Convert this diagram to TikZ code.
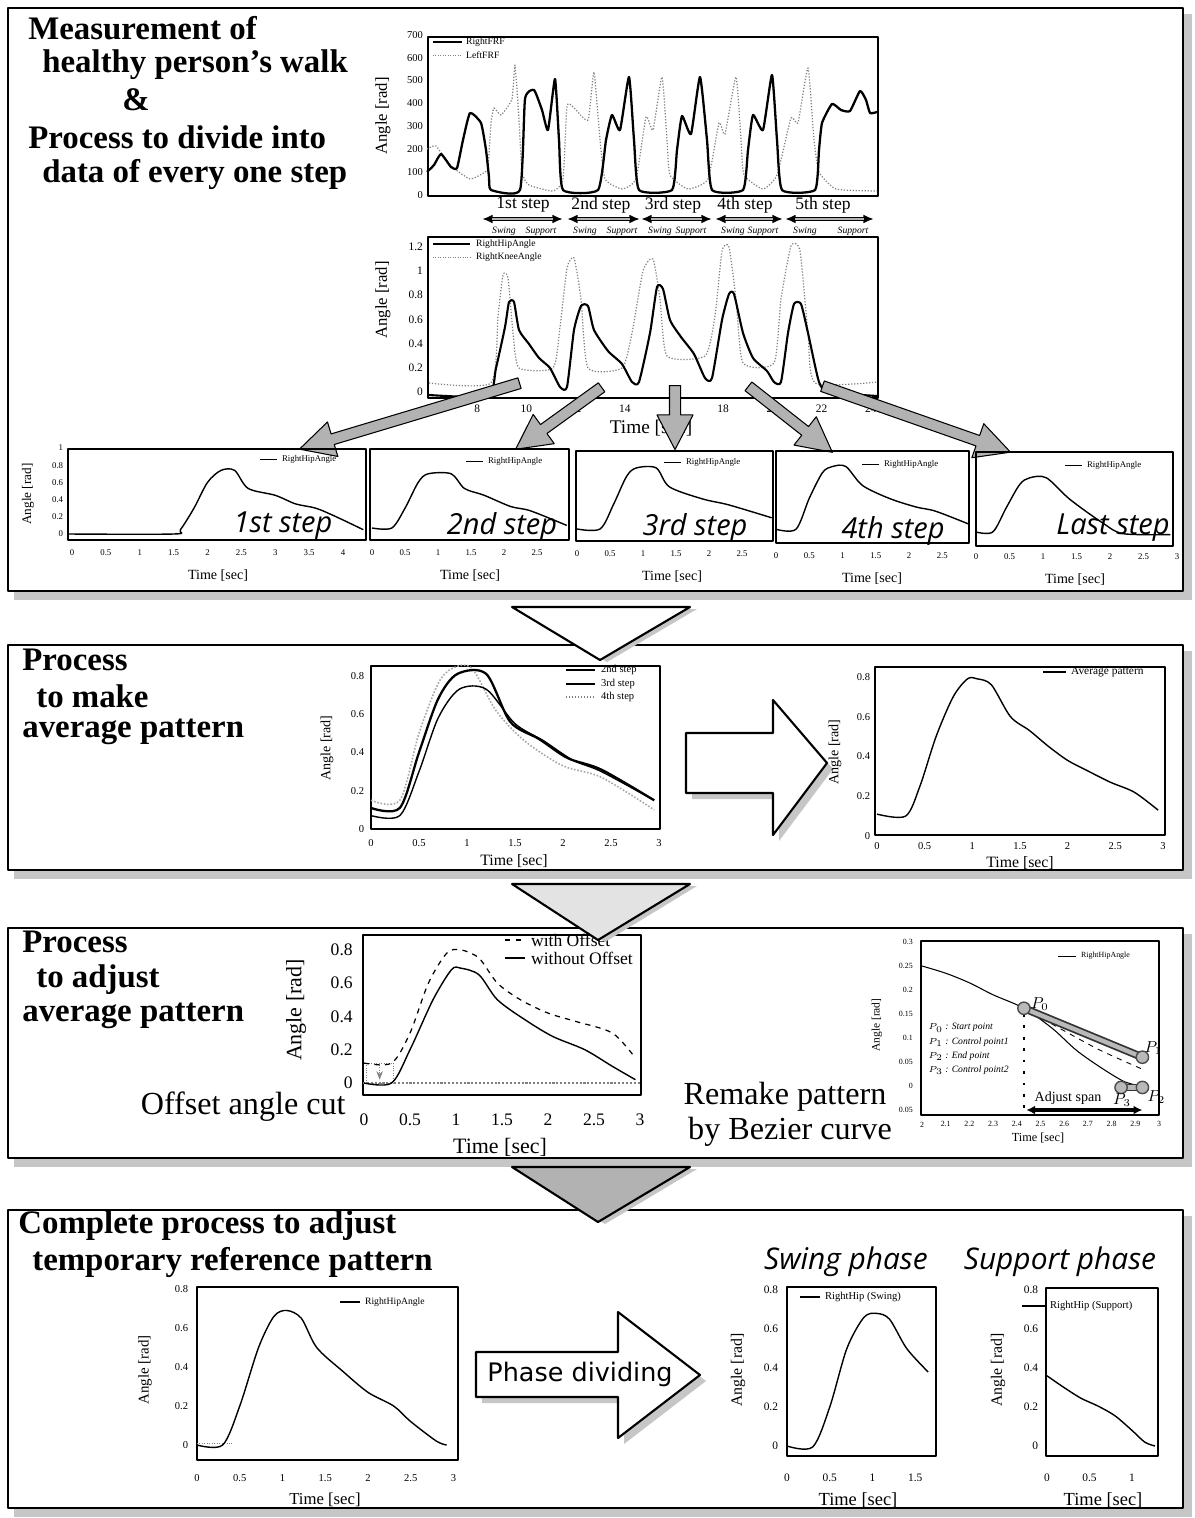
\documentclass[tikz,border=0pt]{standalone}
\usepackage{fontspec}
\setmainfont{Liberation Serif}
\newfontfamily\phasefont{Open Sans}
\newfontfamily\arrowfont{DejaVu Sans}
\usepackage{tikz}
\usetikzlibrary{arrows.meta, shapes.arrows, calc}

\tikzset{
  panel/.style={draw=black, line width=1.2pt, fill=white},
  panelshade/.style={fill=gray!45},
  frame/.style={draw=black, line width=0.6pt},
  ptitle/.style={anchor=west, inner sep=0pt, font=\bfseries\fontsize{18.7}{22}\selectfont},
  ticklbl/.style={inner sep=1pt, font=\fontsize{#1}{#1}\selectfont},
  axlbl/.style={inner sep=0pt, font=\fontsize{#1}{#1}\selectfont},
  leg/.style={anchor=west, inner sep=1pt, font=\fontsize{#1}{#1}\selectfont},
  steplbl/.style={inner sep=0pt, font=\phasefont\itshape\fontsize{16.5}{18}\selectfont},
  bigtxt/.style={inner sep=0pt, font=\fontsize{18.3}{20}\selectfont},
  curve/.style={line width=0.8pt},
  fatarrow/.style={single arrow, draw=black, fill=gray!60, line width=0.6pt,
    inner sep=0.1cm, minimum width=0.6cm, single arrow tip angle=55, anchor=tail},
  blockarrow/.style={draw=black, line width=1.2pt, fill=white},
  chevron/.style={draw=black, line width=1.2pt}
}

\begin{document}
\begin{tikzpicture}[x=0.02cm, y=-0.02cm, >=Stealth, line join=round]
\useasboundingbox (0,0) rectangle (1194,1518);
\fill[white] (0,0) rectangle (1194,1518);

% Rahmen mit Schatten
\foreach \top/\bot in {8/591, 645/870, 928/1158, 1210/1508}
{
  \fill[panelshade] (14,{\top+6}) rectangle (1192,{\bot+9});
  \draw[panel] (8,\top) rectangle (1183,\bot);
}

% ---------- Panel 1 ----------
\node[ptitle] (t1a) at (28,28) {Measurement of};
\node[ptitle] (t1b) at (42,65) {healthy person’s walk};
\node[ptitle] (t1c) at (122,100) {\&};
\node[ptitle] (t1d) at (28,137) {Process to divide into};
\node[ptitle] (t1e) at (42,174) {data of every one step};

% FRF plot
\draw[frame] (428,37) rectangle (878,196);
\foreach \v in {0,100,200,300,400,500,600,700}
  \node[ticklbl=6, left] (fy\v) at (425,{195-0.229*\v}) {\v};
\node[axlbl=9.5, rotate=90] (fylab) at (383,116) {Angle [rad]};
\draw[line width=1pt] (433,42) -- (462,42);
\node[leg=5.5] (fleg1) at (464,42) {RightFRF};
\draw[gray, densely dotted] (433,55) -- (462,55);
\node[leg=5.5] (fleg2) at (464,55) {LeftFRF};
\draw[gray, densely dotted, line width=0.7pt] plot[smooth, tension=0.3] coordinates {
  (427,149) (436,146) (450,165) (470,179) (485,172) (488,168) (491,123) (494,108)
  (501,115) (512,99) (515,65) (519,120) (522,172) (529,185) (553,191) (563,179)
  (567,106) (574,108) (588,120) (594,72) (600,140) (605,179) (622,189) (636,179)
  (646,117) (653,130) (662,77) (667,140) (670,175) (688,189) (708,179) (719,123)
  (725,134) (736,77) (741,140) (744,175) (763,189) (777,175) (791,118) (798,123)
  (808,68) (814,140) (819,172) (836,189) (877,191)};
\draw[line width=1.3pt] plot[smooth, tension=0.3] coordinates {
  (427,172) (434,165) (441,154) (451,167) (457,168) (463,140) (470,113) (481,123)
  (486,150) (489,177) (491,190) (520,190) (525,99) (534,90) (542,110) (548,130)
  (555,79) (559,140) (563,190) (598,190) (606,140) (612,115) (620,130) (629,77)
  (634,140) (639,190) (672,190) (677,150) (682,116) (691,134) (700,77) (707,140)
  (712,190) (743,190) (748,150) (753,115) (763,130) (772,75) (777,140) (782,190)
  (815,190) (819,150) (822,123) (832,104) (841,110) (850,111) (860,91) (866,100)
  (870,113) (877,112)};

% Schritte
\foreach \x/\s [count=\i] in {523/1st, 601/2nd, 673/3rd, 745/4th, 823/5th}
  \node[inner sep=0pt, font=\fontsize{10}{10}\selectfont] (st\i) at (\x,205) {\s\ step};
\foreach \a/\b in {482/563, 567/640, 641/712, 715/783, 785/874}
{
  \draw[{Latex[length=6pt,width=5pt]}-{Latex[length=6pt,width=5pt]}, line width=2.2pt] (\a,219) -- (\b,219);
  \draw[gray!60, line width=0.8pt] ({\a+10},219) -- ({\b-10},219);
}
\foreach \x/\s [count=\i] in {504/Swing, 541/Support, 585/Swing, 622/Support, 660/Swing,
    691/Support, 733/Swing, 763/Support, 805/Swing, 853/Support}
  \node[inner sep=0pt, font=\itshape\fontsize{5.5}{6}\selectfont] (ss\i) at (\x,231) {\s};

% Hip/Knee plot
\draw[frame] (428,237) rectangle (878,398);
\foreach \v [count=\i] in {0,0.2,0.4,0.6,0.8,1,1.2}
  \node[ticklbl=6.5, left] (hy\i) at (425,{392-121*\v}) {\v};
\foreach \t [count=\i] in {6,8,10,12,14,16,18,20,22,24}
  \node[ticklbl=6.5] (hx\i) at ({428+24.6*(\t-6)},409) {\t};
\node[axlbl=9.5, rotate=90] (hylab) at (383,300) {Angle [rad]};
\node[axlbl=11] (hxlab) at (651,428) {Time [sec]};
\draw[line width=1.2pt] (433,244) -- (470,244);
\node[leg=5.5] (hleg1) at (474,244) {RightHipAngle};
\draw[gray, densely dotted] (433,257) -- (470,257);
\node[leg=5.5] (hleg2) at (474,257) {RightKneeAngle};
\draw[gray, densely dotted, line width=0.7pt] plot[smooth, tension=0.35] coordinates {
  (429,383) (491,383) (498,316) (503,275) (508,278) (513,333) (519,368) (553,368)
  (560,327) (567,268) (574,258) (581,299) (588,368) (622,368) (632,333) (643,271)
  (653,259) (660,299) (667,356) (705,356) (715,316) (722,251) (729,247) (736,299)
  (743,363) (774,363) (781,299) (791,246) (800,251) (808,333) (815,383) (877,382)};
\draw[line width=1.2pt] plot[smooth, tension=0.35] coordinates {
  (429,395) (488,396) (496,368) (505,327) (509,302) (514,302) (519,330) (529,344)
  (539,358) (550,368) (560,387) (567,387) (574,330) (581,306) (588,306) (594,330)
  (608,351) (622,364) (632,382) (639,382) (650,333) (657,287) (663,289) (670,320)
  (681,337) (694,354) (705,378) (712,378) (722,320) (729,294) (734,294) (743,333)
  (753,358) (767,371) (774,382) (781,382) (788,333) (794,304) (801,304) (808,333)
  (819,382) (829,392) (877,396)};

% Pfeile zu den Einzelschritten
\coordinate (as1) at (520,383); \coordinate (ae1) at (300,449);
\coordinate (as2) at (602,387); \coordinate (ae2) at (516,449);
\coordinate (as3) at (675,385); \coordinate (ae3) at (675,449);
\coordinate (as4) at (748,386); \coordinate (ae4) at (832,452);
\coordinate (as5) at (822,386); \coordinate (ae5) at (1010,452);
\foreach \i in {1,...,5}
  \path let \p1=($(ae\i)-(as\i)$), \n1={veclen(\x1,\y1)}, \n2={atan2(\y1,\x1)} in
    node[fatarrow, minimum height=\n1, rotate=\n2] (fa\i) at (as\i) {};

% Einzelschritte
\draw[frame] (68,449) rectangle (366,540);
\draw[frame] (370,449) rectangle (569,540);
\draw[frame] (576,451) rectangle (773,541);
\draw[frame] (776,451) rectangle (969,543);
\draw[frame] (976,452) rectangle (1173,546);
\node[axlbl=7.5, rotate=90] (s1ylab) at (28,494) {Angle [rad]};
\foreach \x/\y [count=\i] in {218/576, 470/576, 672/577, 872/579, 1075/580}
  \node[axlbl=8] (sxlab\i) at (\x,\y) {Time [sec]};
\foreach \x/\y [count=\i] in {260/459, 466/461, 664/462, 862/464, 1065/465}
{
  \draw[line width=0.5pt] (\x,\y) -- ({\x+17},\y);
  \node[leg=5] (sleg\i) at ({\x+20},\y) {RightHipAngle};
}
\node[steplbl] (sl1) at (283,526) {1st step};
\node[steplbl] (sl2) at (502,527) {2nd step};
\node[steplbl] (sl3) at (695,528) {3rd step};
\node[steplbl] (sl4) at (893,531) {4th step};
\node[steplbl] (sl5) at (1113,528) {Last step};

\begin{scope}[shift={(72,534)}, xscale=67.75, yscale=-86]
  \foreach \v [count=\i] in {0,0.2,0.4,0.6,0.8,1}
    \node[ticklbl=5, left] (s1y\i) at (-0.1,\v) {\v};
  \foreach \t [count=\i] in {0,0.5,1,1.5,2,2.5,3,3.5,4}
    \node[ticklbl=5] (s1x\i) at (\t,-0.22) {\t};
  \draw[curve] plot[smooth, tension=0.5] coordinates {(-0.05,0) (1.5,0) (1.6,0.05) (1.8,0.3)
    (2.0,0.6) (2.2,0.74) (2.4,0.74) (2.6,0.53) (3.0,0.45) (3.3,0.35) (3.6,0.3) (3.9,0.2) (4.3,0.05)};
\end{scope}
\begin{scope}[shift={(372,534)}, xscale=66, yscale=-86]
  \foreach \t [count=\i] in {0,0.5,1,1.5,2,2.5}
    \node[ticklbl=5] (s2x\i) at (\t,-0.22) {\t};
  \draw[curve] plot[smooth, tension=0.5] coordinates {(0,0.07) (0.3,0.07) (0.5,0.3) (0.7,0.6)
    (0.85,0.7) (1.2,0.7) (1.4,0.53) (1.7,0.45) (2.1,0.32) (2.4,0.27) (2.95,0.1)};
\end{scope}
\begin{scope}[shift={(577,535)}, xscale=66, yscale=-86]
  \foreach \t [count=\i] in {0,0.5,1,1.5,2,2.5}
    \node[ticklbl=5] (s3x\i) at (\t,-0.22) {\t};
  \draw[curve] plot[smooth, tension=0.5] coordinates {(0,0.07) (0.35,0.07) (0.55,0.35) (0.75,0.68)
    (0.9,0.78) (1.2,0.78) (1.4,0.56) (1.9,0.42) (2.3,0.35) (2.95,0.2)};
\end{scope}
\begin{scope}[shift={(776,537)}, xscale=66.5, yscale=-86]
  \foreach \t [count=\i] in {0,0.5,1,1.5,2,2.5}
    \node[ticklbl=5] (s4x\i) at (\t,-0.22) {\t};
  \draw[curve] plot[smooth, tension=0.5] coordinates {(0,0.09) (0.3,0.09) (0.5,0.45) (0.7,0.75)
    (0.85,0.82) (1.05,0.82) (1.3,0.6) (1.7,0.45) (2.1,0.35) (2.4,0.3) (2.9,0.15)};
\end{scope}
\begin{scope}[shift={(976,538)}, xscale=67, yscale=-86]
  \foreach \t [count=\i] in {0,0.5,1,1.5,2,2.5,3}
    \node[ticklbl=5] (s5x\i) at (\t,-0.22) {\t};
  \draw[curve] plot[smooth, tension=0.5] coordinates {(0,0.07) (0.25,0.07) (0.45,0.35) (0.65,0.62)
    (0.8,0.7) (1.05,0.7) (1.4,0.45) (1.9,0.17) (2.2,0.05) (2.9,0.04)};
\end{scope}

% ---------- Panel 2 ----------
\node[ptitle] (t2a) at (22,660) {Process};
\node[ptitle] (t2b) at (36,696) {to make};
\node[ptitle] (t2c) at (22,732) {average pattern};

\draw[frame, line width=0.8pt] (371,666) rectangle (660,829);
\node[axlbl=8, rotate=90] (ayl) at (327,748) {Angle [rad]};
\node[axlbl=9] (axl) at (514,861) {Time [sec]};
\draw[line width=0.6pt] (566,670) -- (595,670);
\node[leg=6] (aleg1) at (599,670) {2nd step};
\draw[line width=1.3pt] (566,684) -- (595,684);
\node[leg=6] (aleg2) at (599,684) {3rd step};
\draw[gray, densely dotted, line width=0.7pt] (566,697) -- (595,697);
\node[leg=6] (aleg3) at (599,697) {4th step};
\begin{scope}[shift={(371,829)}, xscale=96, yscale=-191.5]
  \foreach \v [count=\i] in {0,0.2,0.4,0.6,0.8}
    \node[ticklbl=6, left] (ay\i) at (-0.05,\v) {\v};
  \foreach \t [count=\i] in {0,0.5,1,1.5,2,2.5,3}
    \node[ticklbl=6] (ax\i) at (\t,-0.075) {\t};
  \draw[gray!70, densely dotted, line width=0.9pt] plot[smooth, tension=0.5] coordinates {(0,0.15) (0.3,0.15)
    (0.5,0.5) (0.7,0.76) (0.85,0.84) (1.05,0.84) (1.3,0.62) (1.6,0.46) (2.0,0.33) (2.4,0.27) (2.95,0.1)};
  \draw[curve] plot[smooth, tension=0.5] coordinates {(0,0.07) (0.3,0.07) (0.5,0.3) (0.7,0.58)
    (0.92,0.73) (1.2,0.73) (1.5,0.55) (1.8,0.46) (2.1,0.36) (2.4,0.3) (2.95,0.15)};
  \draw[line width=1.3pt] plot[smooth, tension=0.5] coordinates {(0,0.11) (0.3,0.11) (0.5,0.4) (0.7,0.68)
    (0.9,0.81) (1.2,0.81) (1.45,0.56) (1.75,0.47) (2.05,0.37) (2.4,0.31) (2.95,0.15)};
\end{scope}

% Blockpfeil
\fill[gray!45] (692,739) -- (779,739) -- (779,706) -- (833,769) -- (779,841) -- (779,799) -- (692,799) -- cycle;
\draw[blockarrow] (686,733) -- (773,733) -- (773,700) -- (827,763) -- (773,835) -- (773,793) -- (686,793) -- cycle;

\draw[frame, line width=0.8pt] (875,667) rectangle (1165,835);
\node[axlbl=8, rotate=90] (byl) at (835,752) {Angle [rad]};
\node[axlbl=9] (bxl) at (1020,863) {Time [sec]};
\draw[line width=0.6pt] (1043,672) -- (1066,672);
\node[leg=6.5] (bleg) at (1069,672) {Average pattern};
\begin{scope}[shift={(877,836)}, xscale=95.3, yscale=-199]
  \foreach \v [count=\i] in {0,0.2,0.4,0.6,0.8}
    \node[ticklbl=6, left] (by\i) at (-0.05,\v) {\v};
  \foreach \t [count=\i] in {0,0.5,1,1.5,2,2.5,3}
    \node[ticklbl=6] (bx\i) at (\t,-0.05) {\t};
  \draw[curve] plot[smooth, tension=0.5] coordinates {(0,0.11) (0.3,0.1) (0.45,0.25) (0.62,0.5)
    (0.8,0.7) (0.95,0.79) (1.05,0.79) (1.2,0.76) (1.4,0.6) (1.6,0.53) (1.8,0.45) (2.0,0.38)
    (2.2,0.33) (2.45,0.27) (2.7,0.22) (2.95,0.13)};
\end{scope}

% ---------- Panel 3 ----------
\node[ptitle] (t3a) at (22,942) {Process};
\node[ptitle] (t3b) at (36,980) {to adjust};
\node[ptitle] (t3c) at (22,1016) {average pattern};

\draw[frame, line width=0.8pt] (363,935) rectangle (641,1095);
\node[axlbl=12.5, rotate=90] (cyl) at (296,1010) {Angle [rad]};
\node[axlbl=12.5] (cxl) at (500,1147) {Time [sec]};
\draw[dashed, line width=0.6pt] (505,940) -- (525,940);
\node[leg=10] (cleg1) at (529,940) {with Offset};
\draw[line width=0.6pt] (505,958) -- (525,958);
\node[leg=10] (cleg2) at (529,958) {without Offset};
\begin{scope}[shift={(364,1083)}, xscale=92, yscale=-166.5]
  \foreach \v [count=\i] in {0,0.2,0.4,0.6,0.8}
    \node[ticklbl=10, left] (cy\i) at (-0.1,\v) {\v};
  \foreach \t [count=\i] in {0,0.5,1,1.5,2,2.5,3}
    \node[ticklbl=10] (cx\i) at (\t,-0.22) {\t};
  \draw[gray, densely dotted, line width=1.2pt] (-0.01,0) -- (3.01,0);
  \draw[gray, densely dotted] (0.03,0) rectangle (0.32,0.12);
  \draw[gray, densely dotted, ->] (0.17,0.11) -- (0.17,0.02);
  \draw[dashed, line width=0.7pt] plot[smooth, tension=0.5] coordinates {(0,0.12) (0.3,0.12) (0.5,0.3)
    (0.7,0.6) (0.9,0.78) (1.05,0.8) (1.25,0.75) (1.45,0.6) (1.7,0.5) (2.0,0.42) (2.3,0.37)
    (2.7,0.3) (2.95,0.15)};
  \draw[curve] plot[smooth, tension=0.5] coordinates {(0,0) (0.3,0) (0.5,0.2) (0.75,0.5) (0.95,0.68)
    (1.05,0.69) (1.25,0.65) (1.45,0.5) (1.75,0.38) (2.05,0.28) (2.4,0.2) (2.7,0.1) (2.95,0.02)};
\end{scope}
\node[bigtxt, anchor=east] (offcut) at (346,1107) {Offset angle cut};
\node[bigtxt] (remake1) at (785,1097) {Remake pattern};
\node[bigtxt] (remake2) at (790,1132) {by Bezier curve};

% Bezier plot
\draw[frame] (921,941) rectangle (1159,1115);
\node[axlbl=6.5, rotate=90] (dyl) at (877,1025) {Angle [rad]};
\node[axlbl=7] (dxl) at (1038,1138) {Time [sec]};
\draw[line width=0.5pt] (1058,956) -- (1076,956);
\node[leg=4.5] (dleg) at (1079,956) {RightHipAngle};
\begin{scope}[shift={(448,1086)}, xscale=237, yscale=-480]
  \foreach \v/\l [count=\i] in {0.3/0.3, 0.25/0.25, 0.2/0.2, 0.15/0.15, 0.1/0.1, 0.05/0.05, 0/0, -0.05/0.05}
    \node[ticklbl=4.5, left] (dy\i) at (1.97,\v) {\l};
  \foreach \t [count=\i] in {2,2.1,2.2,2.3,2.4,2.5,2.6,2.7,2.8,2.9,3}
    \node[ticklbl=4.5] (dx\i) at (\t,-0.08) {\t};
  \draw[line width=0.6pt] plot[smooth, tension=0.5] coordinates {(2,0.25) (2.1,0.235) (2.2,0.215)
    (2.3,0.19) (2.43,0.162) (2.55,0.12) (2.65,0.075) (2.75,0.04) (2.85,0.01) (2.92,0)};
  \draw[dashed, line width=0.5pt] plot[smooth] coordinates {(2.43,0.162) (2.6,0.115) (2.75,0.075) (2.93,0.035)};
  \draw[dash pattern=on 1.5pt off 5pt, line width=1.6pt] (2.43,0.15) -- (2.43,-0.05);
  \coordinate (p0) at (2.43,0.162);
  \coordinate (p1) at (2.93,0.06);
  \coordinate (p2) at (2.93,-0.003);
  \coordinate (p3) at (2.84,-0.003);
  \coordinate (sp1) at (2.44,-0.05);
  \coordinate (sp2) at (2.93,-0.05);
\end{scope}
\draw[line width=4.5pt, black!80] (p0) -- (p1);
\draw[line width=2.5pt, gray!55] (p0) -- (p1);
\draw[line width=4.5pt, black!80] (p3) -- (p2);
\draw[line width=2.5pt, gray!55] (p3) -- (p2);
\foreach \p in {p0,p1,p2,p3}
  \draw[fill=gray!55, draw=black!70, line width=0.8pt] (\p) circle (3.5pt);
\node[inner sep=0pt, font=\fontsize{9}{9}\selectfont] (lp0) at ($(p0)+(16,-4)$) {$P_0$};
\node[inner sep=0pt, font=\fontsize{9}{9}\selectfont] (lp1) at ($(p1)+(11,-9)$) {$P_1$};
\node[inner sep=0pt, font=\fontsize{9}{9}\selectfont] (lp2) at ($(p2)+(14,10)$) {$P_2$};
\node[inner sep=0pt, font=\fontsize{9}{9}\selectfont] (lp3) at ($(p3)+(1,13)$) {$P_3$};
\foreach \y/\s [count=\i] in {1028/{$P_0$ : Start point}, 1042/{$P_1$ : Control point1},
    1056/{$P_2$ : End point}, 1070/{$P_3$ : Control point2}}
  \node[anchor=west, inner sep=0pt, font=\itshape\fontsize{5.5}{6}\selectfont] (pl\i) at (928,\y) {\s};
\node[inner sep=0pt, font=\fontsize{8}{8}\selectfont] (adj) at (1068,1098) {Adjust span};
\draw[{Latex[length=5pt,width=5pt]}-{Latex[length=5pt,width=5pt]}, line width=2.2pt] (sp1) -- (sp2);

% ---------- Panel 4 ----------
\node[ptitle] (t4a) at (18,1226) {Complete process to adjust};
\node[ptitle] (t4b) at (32,1262) {temporary reference pattern};

\draw[frame, line width=1pt] (197,1287) rectangle (458,1460);
\node[axlbl=8.5, rotate=90] (eyl) at (145,1370) {Angle [rad]};
\node[axlbl=9.5] (exl) at (325,1500) {Time [sec]};
\draw[line width=0.6pt] (340,1302) -- (360,1302);
\node[leg=5.5] (eleg) at (363,1302) {RightHipAngle};
\begin{scope}[shift={(197,1445)}, xscale=85.5, yscale=-195]
  \foreach \v [count=\i] in {0,0.2,0.4,0.6,0.8}
    \node[ticklbl=6, left] (ey\i) at (-0.08,\v) {\v};
  \foreach \t [count=\i] in {0,0.5,1,1.5,2,2.5,3}
    \node[ticklbl=6] (ex\i) at (\t,-0.17) {\t};
  \draw[gray, densely dotted] (0,0.01) -- (0.42,0.01);
  \draw[curve] plot[smooth, tension=0.5] coordinates {(0,0) (0.3,0) (0.5,0.2) (0.72,0.5) (0.9,0.66)
    (1.05,0.69) (1.22,0.65) (1.4,0.5) (1.7,0.38) (2.0,0.27) (2.3,0.2) (2.5,0.12) (2.8,0.02) (2.92,0)};
\end{scope}

% Pfeil Phase dividing
\fill[gray!45] (482,1358) -- (624,1358) -- (624,1318) -- (706,1381) -- (624,1444) -- (624,1403) -- (482,1403) -- cycle;
\draw[blockarrow] (476,1352) -- (618,1352) -- (618,1312) -- (700,1375) -- (618,1438) -- (618,1397) -- (476,1397) -- cycle;
\node[inner sep=0pt, font=\arrowfont\fontsize{14.5}{16}\selectfont] (phdiv) at (580,1374) {Phase dividing};

% Swing
\node[inner sep=0pt, font=\phasefont\itshape\fontsize{17}{19}\selectfont] (swt) at (846,1262) {Swing phase};
\draw[frame, line width=1.5pt] (787,1287) rectangle (936,1456);
\node[axlbl=9, rotate=90] (fyl) at (738,1370) {Angle [rad]};
\node[axlbl=10.5] (fxl) at (858,1500) {Time [sec]};
\draw[line width=0.6pt] (800,1297) -- (820,1297);
\node[leg=6] (fleg) at (823,1297) {RightHip (Swing)};
\begin{scope}[shift={(787,1446)}, xscale=85.5, yscale=-195]
  \foreach \v [count=\i] in {0,0.2,0.4,0.6,0.8}
    \node[ticklbl=6.5, left] (gy\i) at (-0.08,\v) {\v};
  \foreach \t [count=\i] in {0,0.5,1,1.5}
    \node[ticklbl=6.5] (gx\i) at (\t,-0.165) {\t};
  \draw[curve] plot[smooth, tension=0.5] coordinates {(0,0) (0.3,-0.005) (0.5,0.2) (0.7,0.5)
    (0.9,0.66) (1.05,0.68) (1.2,0.65) (1.4,0.5) (1.65,0.38)};
\end{scope}

% Support
\node[inner sep=0pt, font=\phasefont\itshape\fontsize{17}{19}\selectfont] (spt) at (1060,1262) {Support phase};
\draw[frame, line width=1.5pt] (1046,1288) rectangle (1158,1456);
\node[axlbl=9, rotate=90] (kyl) at (998,1370) {Angle [rad]};
\node[axlbl=10.5] (kxl) at (1103,1500) {Time [sec]};
\draw[line width=0.6pt] (1022,1306) -- (1045,1306);
\node[leg=6] (kleg) at (1048,1306) {RightHip (Support)};
\begin{scope}[shift={(1047,1446)}, xscale=85, yscale=-195]
  \foreach \v [count=\i] in {0,0.2,0.4,0.6,0.8}
    \node[ticklbl=6.5, left] (ky\i) at (-0.08,\v) {\v};
  \foreach \t [count=\i] in {0,0.5,1}
    \node[ticklbl=6.5] (kx\i) at (\t,-0.165) {\t};
  \draw[curve] plot[smooth, tension=0.5] coordinates {(0,0.36) (0.2,0.3) (0.4,0.245) (0.6,0.205)
    (0.8,0.155) (1.0,0.08) (1.15,0.02) (1.27,0)};
\end{scope}

% Dreiecke zwischen den Rahmen
\fill[gray!45] (519,609) -- (697,609) -- (607,662) -- cycle;
\draw[chevron, fill=white] (512,607) -- (690,607) -- (600,660) -- cycle;
\fill[gray!45] (519,886) -- (697,886) -- (605,942) -- cycle;
\draw[chevron, fill=gray!22] (512,884) -- (690,884) -- (598,940) -- cycle;
\fill[gray!45] (519,1169) -- (697,1169) -- (605,1224) -- cycle;
\draw[chevron, fill=gray!60] (512,1167) -- (690,1167) -- (598,1222) -- cycle;

\end{tikzpicture}
\end{document}
